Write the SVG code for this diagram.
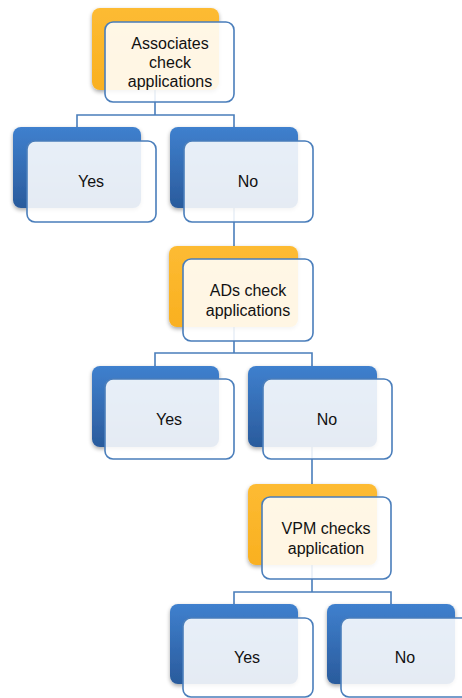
<svg xmlns="http://www.w3.org/2000/svg" width="462" height="698" viewBox="0 0 462 698">
  <defs>
    <linearGradient id="blueGrad" x1="0" y1="0" x2="0" y2="1">
      <stop offset="0" stop-color="#3F80CE"/>
      <stop offset="1" stop-color="#2A5B9C"/>
    </linearGradient>
    <linearGradient id="orangeGrad" x1="0" y1="0" x2="0" y2="1">
      <stop offset="0" stop-color="#FDBB33"/>
      <stop offset="1" stop-color="#F9B020"/>
    </linearGradient>
    <filter id="shadow" x="-10%" y="-10%" width="125%" height="130%">
      <feGaussianBlur in="SourceAlpha" stdDeviation="2"/>
      <feOffset dx="0" dy="2" result="b"/>
      <feComponentTransfer><feFuncA type="linear" slope="0.35"/></feComponentTransfer>
      <feMerge><feMergeNode/><feMergeNode in="SourceGraphic"/></feMerge>
    </filter>
  </defs>
  <style>
    .back-blue { fill: url(#blueGrad); filter: url(#shadow); }
    .back-orange { fill: url(#orangeGrad); filter: url(#shadow); }
    .front { fill: #FFFFFF; fill-opacity: 0.88; stroke: #4A7EBB; stroke-width: 1.6; }
    .conn { fill: none; stroke: #4A7EBB; stroke-width: 1.6; }
    .label { font-family: "Liberation Sans", Arial, sans-serif; font-size: 16px; fill: #111111; text-anchor: middle; }
  </style>

  <!-- connectors (drawn first so the boxes sit on top) -->
  <g id="connectors">
    <path class="conn" d="M155,90 V115 M77,127 V115 H234 V127"/>
    <path class="conn" d="M234,208 V246"/>
    <path class="conn" d="M234,327 V353 M155,366 V353 H312 V366"/>
    <path class="conn" d="M312,447 V484"/>
    <path class="conn" d="M312,565 V592 M234,604 V592 H391 V604"/>
  </g>

  <!-- level 1 -->
  <g id="associates">
    <rect class="back-orange" x="92" y="8" width="127" height="82" rx="8"/>
    <rect class="front" x="105" y="22" width="129" height="80" rx="8"/>
    <text class="label" x="170" y="49">Associates</text>
    <text class="label" x="170" y="68">check</text>
    <text class="label" x="170" y="87">applications</text>
  </g>

  <g id="yes1">
    <rect class="back-blue" x="13" y="127" width="128" height="81" rx="8"/>
    <rect class="front" x="27" y="141" width="129" height="81" rx="8"/>
    <text class="label" x="91" y="187">Yes</text>
  </g>

  <g id="no1">
    <rect class="back-blue" x="170" y="127" width="128" height="81" rx="8"/>
    <rect class="front" x="184" y="141" width="129" height="81" rx="8"/>
    <text class="label" x="248" y="187">No</text>
  </g>

  <!-- level 2 -->
  <g id="ads">
    <rect class="back-orange" x="169" y="246" width="129" height="81" rx="8"/>
    <rect class="front" x="183" y="259" width="130" height="82" rx="8"/>
    <text class="label" x="248" y="296">ADs check</text>
    <text class="label" x="248" y="316">applications</text>
  </g>

  <g id="yes2">
    <rect class="back-blue" x="92" y="366" width="127" height="81" rx="8"/>
    <rect class="front" x="105" y="379" width="129" height="80" rx="8"/>
    <text class="label" x="169" y="425">Yes</text>
  </g>

  <g id="no2">
    <rect class="back-blue" x="248" y="366" width="129" height="81" rx="8"/>
    <rect class="front" x="263" y="379" width="129" height="80" rx="8"/>
    <text class="label" x="327" y="425">No</text>
  </g>

  <!-- level 3 -->
  <g id="vpm">
    <rect class="back-orange" x="248" y="484" width="129" height="81" rx="8"/>
    <rect class="front" x="262" y="497" width="129" height="82" rx="8"/>
    <text class="label" x="326" y="534">VPM checks</text>
    <text class="label" x="326" y="554">application</text>
  </g>

  <g id="yes3">
    <rect class="back-blue" x="170" y="604" width="128" height="80" rx="8"/>
    <rect class="front" x="183" y="618" width="130" height="79" rx="8"/>
    <text class="label" x="247" y="663">Yes</text>
  </g>

  <g id="no3">
    <rect class="back-blue" x="327" y="604" width="128" height="80" rx="8"/>
    <rect class="front" x="341" y="618" width="130" height="79" rx="8"/>
    <text class="label" x="405" y="663">No</text>
  </g>
</svg>
